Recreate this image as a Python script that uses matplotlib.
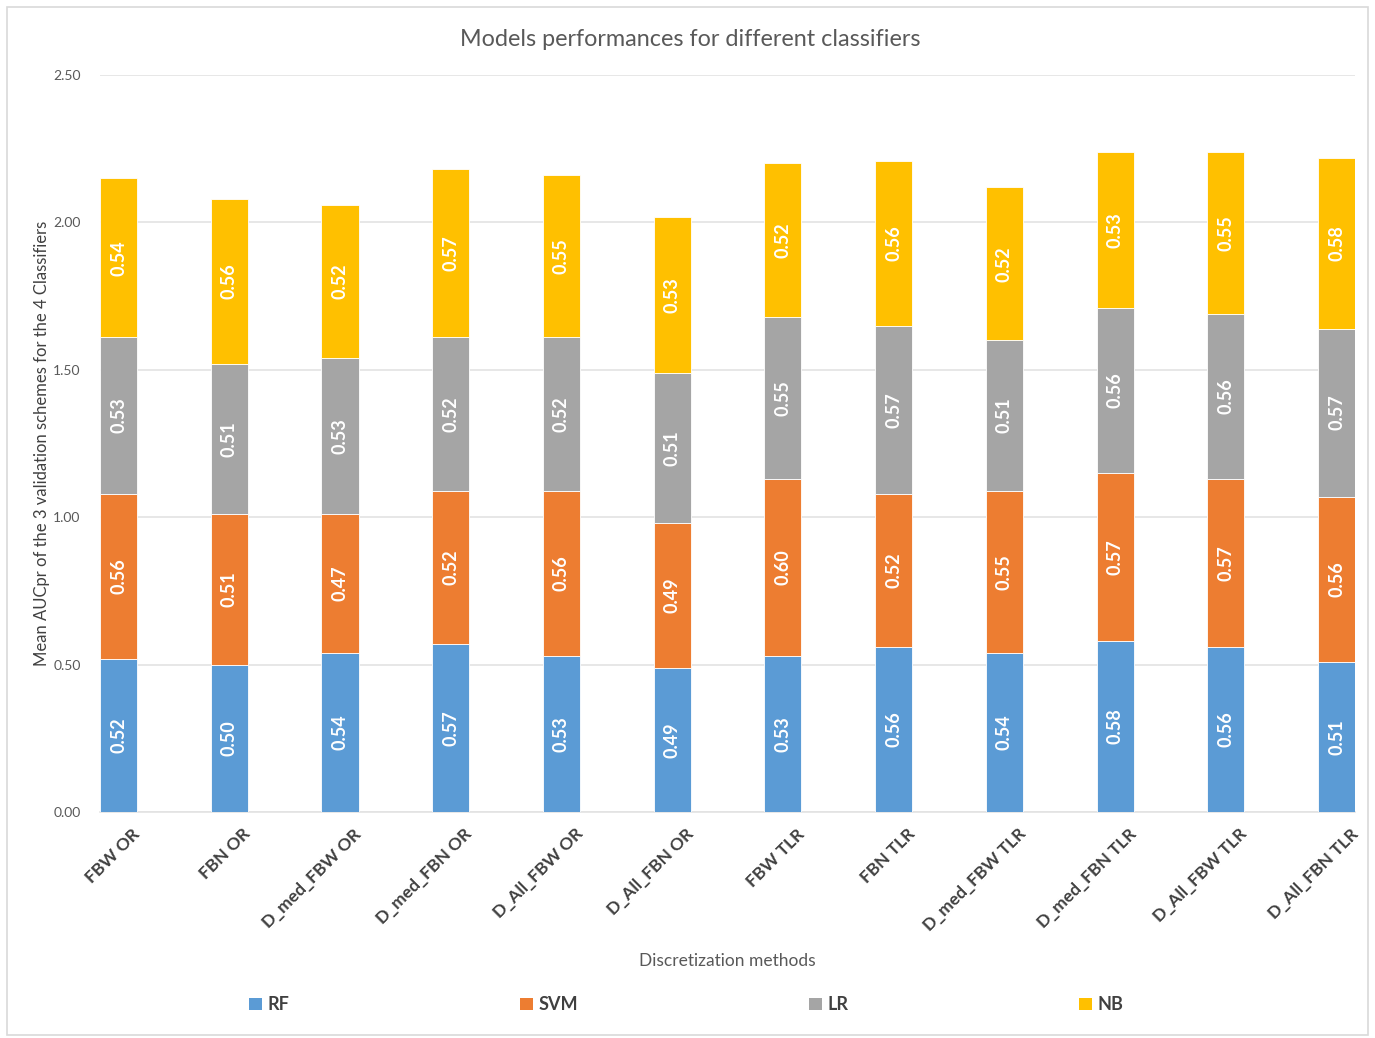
import matplotlib
matplotlib.use("Agg")
import matplotlib.pyplot as plt
from matplotlib.patches import Rectangle, Patch
import numpy as np

plt.rcParams['font.family'] = ['Lato', 'DejaVu Sans']

categories = ["FBW OR", "FBN OR", "D_med_FBW OR", "D_med_FBN OR", "D_All_FBW OR",
              "D_All_FBN OR", "FBW TLR", "FBN TLR", "D_med_FBW TLR", "D_med_FBN TLR",
              "D_All_FBW TLR", "D_All_FBN TLR"]
rf  = [0.52, 0.50, 0.54, 0.57, 0.53, 0.49, 0.53, 0.56, 0.54, 0.58, 0.56, 0.51]
svm = [0.56, 0.51, 0.47, 0.52, 0.56, 0.49, 0.60, 0.52, 0.55, 0.57, 0.57, 0.56]
lr  = [0.53, 0.51, 0.53, 0.52, 0.52, 0.51, 0.55, 0.57, 0.51, 0.56, 0.56, 0.57]
nb  = [0.54, 0.56, 0.52, 0.57, 0.55, 0.53, 0.52, 0.56, 0.52, 0.53, 0.55, 0.58]
series_names = ["RF", "SVM", "LR", "NB"]
colors = ["#5B9BD5", "#ED7D31", "#A5A5A5", "#FFC000"]
yticks = [0.0, 0.5, 1.0, 1.5, 2.0, 2.5]

fig = plt.figure(figsize=(13.75, 10.38), dpi=100)
fig.patches.append(Rectangle((0.005, 0.003), 0.99, 0.99, transform=fig.transFigure,
                             fill=False, edgecolor="#D9D9D9", linewidth=1.2))
ax = fig.add_axes([0.0727, 0.2177, 0.9128, 0.710])

x = np.arange(len(categories))
w = 0.335
bottom = np.zeros(len(categories))
for vals, name, c in zip([rf, svm, lr, nb], series_names, colors):
    vals = np.array(vals)
    ax.bar(x, vals, w, bottom=bottom, color=c, edgecolor="white", linewidth=0.6,
           label=name, zorder=3)
    for xi, b, v in zip(x, bottom, vals):
        ax.text(xi, b + v / 2, f"{v:.2f}", rotation=90, ha="center", va="center",
                color="white", fontsize=13, fontweight="bold", zorder=4)
    bottom += vals

ax.set_xlim(-w / 2, len(categories) - 1 + w / 2)
ax.set_ylim(0, 2.5)
ax.set_yticks(yticks)
ax.set_yticklabels([f"{t:.2f}" for t in yticks], fontsize=10, color="#595959")
ax.yaxis.grid(True, color="#E3E3E3", linewidth=1.2, zorder=0)
ax.tick_params(axis="y", length=0, pad=14)
ax.tick_params(axis="x", length=0, pad=10)
for s in ["top", "right", "left"]:
    ax.spines[s].set_visible(False)
ax.spines["bottom"].set_color("#E3E3E3")
ax.spines["bottom"].set_linewidth(1.2)

ax.set_xticks(x + 0.12)
ax.set_xticklabels(categories, rotation=45, ha="right", rotation_mode="anchor",
                   fontsize=12.5, color="#404040", fontweight="bold")

ax.set_ylabel("Mean AUCpr of the 3 validation schemes for the 4 Classifiers",
              fontsize=12, color="#404040", labelpad=2)
fig.text(0.529, 0.074, "Discretization methods", ha="center", va="center",
         fontsize=12.5, color="#595959")
fig.text(0.502, 0.962, "Models performances for different classifiers", ha="center",
         va="center", fontsize=16.8, color="#595959")

handles = [Patch(facecolor=c, label=n) for c, n in zip(colors, series_names)]
leg = fig.legend(handles=handles, loc="center", bbox_to_anchor=(0.499, 0.032), ncol=4,
                 frameon=False, fontsize=13, handlelength=0.7, handleheight=0.7,
                 handletextpad=0.3, columnspacing=12.8)
for t in leg.get_texts():
    t.set_color("#404040")
    t.set_fontweight("bold")

fig.savefig("out.png", dpi=100)
